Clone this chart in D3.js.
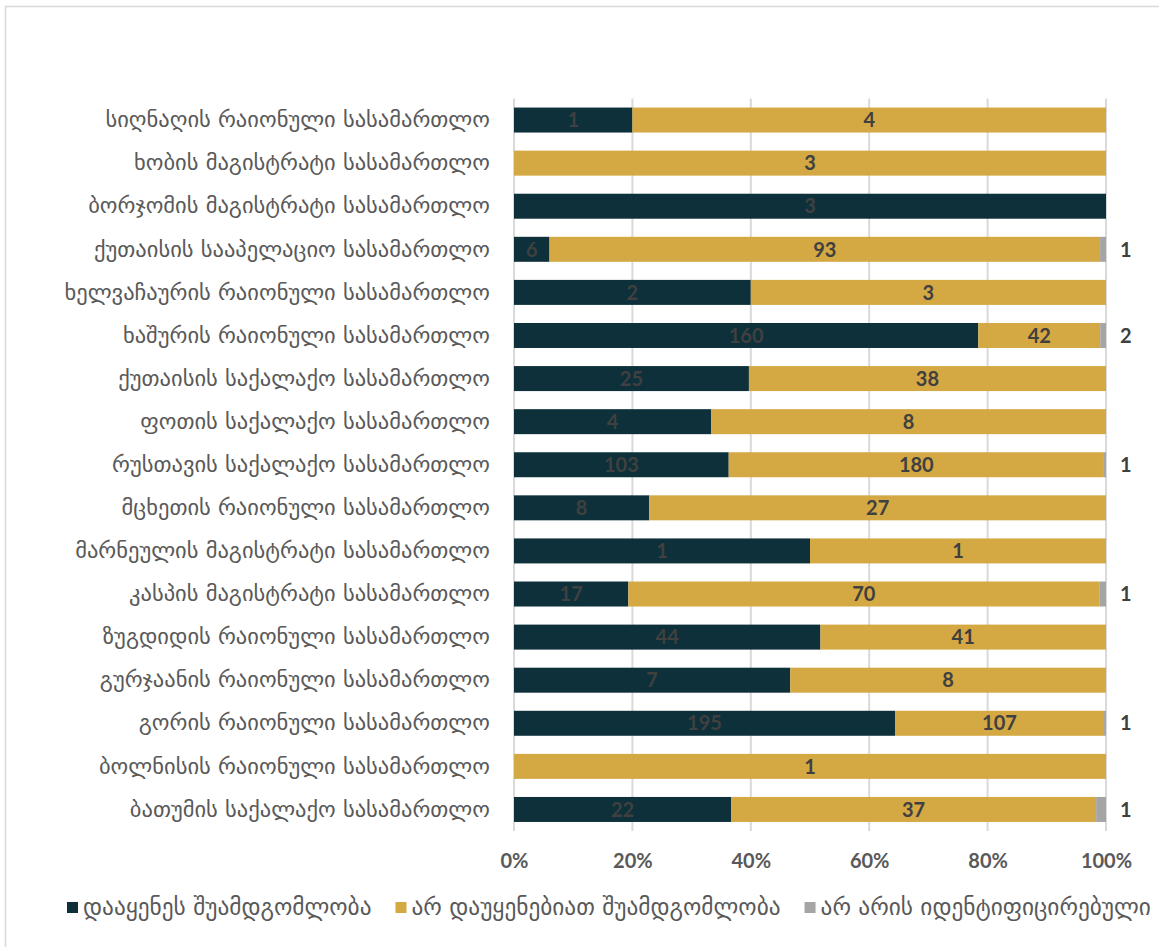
<!DOCTYPE html>
<html>
<head>
<meta charset="utf-8">
<script src="https://cdn.jsdelivr.net/npm/d3@7"></script>
<style>
html,body{margin:0;padding:0;background:#fff;}
svg{display:block;}
</style>
</head>
<body>
<svg id="chart" width="1159" height="947"></svg>
<script>
const categories = [
  "სიღნაღის რაიონული სასამართლო",
  "ხობის მაგისტრატი სასამართლო",
  "ბორჯომის მაგისტრატი სასამართლო",
  "ქუთაისის სააპელაციო სასამართლო",
  "ხელვაჩაურის რაიონული სასამართლო",
  "ხაშურის რაიონული სასამართლო",
  "ქუთაისის საქალაქო სასამართლო",
  "ფოთის საქალაქო სასამართლო",
  "რუსთავის საქალაქო სასამართლო",
  "მცხეთის რაიონული სასამართლო",
  "მარნეულის მაგისტრატი სასამართლო",
  "კასპის მაგისტრატი სასამართლო",
  "ზუგდიდის რაიონული სასამართლო",
  "გურჯაანის რაიონული სასამართლო",
  "გორის რაიონული სასამართლო",
  "ბოლნისის რაიონული სასამართლო",
  "ბათუმის საქალაქო სასამართლო"
];
const filed    = [1, 0, 3, 6, 2, 160, 25, 4, 103, 8, 1, 17, 44, 7, 195, 0, 22];
const notFiled = [4, 3, 0, 93, 3, 42, 38, 8, 180, 27, 1, 70, 41, 8, 107, 1, 37];
const unknown  = [0, 0, 0, 1, 0, 2, 0, 0, 1, 0, 0, 1, 0, 0, 1, 0, 1];
const seriesNames = ["დააყენეს შუამდგომლობა", "არ დაუყენებიათ შუამდგომლობა", "არ არის იდენტიფიცირებული"];
const colors = ["#0d303a", "#d4a843", "#a5a5a5"];
const tickValues = [0, 0.2, 0.4, 0.6, 0.8, 1.0];

const svg = d3.select("#chart");
const W = 1159, H = 947;

// outer frame
svg.append("rect").attr("x", 5.5).attr("y", 6.5).attr("width", W + 10).attr("height", H + 10)
  .attr("fill", "none").attr("stroke", "#d9d9d9").attr("stroke-width", 1.5);

const pL = 514, pR = 1106, pT = 98.5, pB = 831;
const x = d3.scaleLinear().domain([0, 1]).range([pL, pR]);
const y = d3.scaleBand().domain(categories).range([pT, pB]).paddingInner(0.42).paddingOuter(0.21);

// gridlines
svg.append("g").selectAll("line").data(tickValues).join("line")
  .attr("x1", d => x(d)).attr("x2", d => x(d))
  .attr("y1", pT).attr("y2", pB)
  .attr("stroke", "#d9d9d9").attr("stroke-width", 2);

const rows = categories.map((c, i) => {
  const vals = [filed[i], notFiled[i], unknown[i]];
  const tot = d3.sum(vals);
  let acc = 0;
  return {cat: c, segs: vals.map((v, k) => {
    const s = {k, v, x0: acc / tot, x1: (acc + v) / tot};
    acc += v;
    return s;
  })};
});

const numFont = "Lato, 'Open Sans', sans-serif";
const geoFont = "'DejaVu Sans', sans-serif";

const g = svg.append("g");
rows.forEach(r => {
  r.segs.forEach(s => {
    if (s.v <= 0) return;
    g.append("rect")
      .attr("x", x(s.x0)).attr("width", x(s.x1) - x(s.x0))
      .attr("y", y(r.cat)).attr("height", y.bandwidth())
      .attr("fill", colors[s.k]);
  });
  r.segs.forEach(s => {
    if (s.v <= 0) return;
    const cy = y(r.cat) + y.bandwidth() / 2;
    const tx = s.k === 2 ? x(1) + 14 : (x(s.x0) + x(s.x1)) / 2;
    g.append("text")
      .attr("x", tx).attr("y", cy).attr("dy", "0.36em")
      .attr("text-anchor", s.k === 2 ? "start" : "middle")
      .attr("font-family", numFont)
      .attr("font-weight", "bold").attr("font-size", 20)
      .attr("fill", "#404040")
      .text(s.v);
  });
});

// category labels
const ax = d3.axisLeft(y).tickSize(0).tickPadding(24);
const ag = svg.append("g").attr("transform", `translate(${pL},0)`).call(ax);
ag.select(".domain").remove();
ag.selectAll("text")
  .attr("font-family", geoFont)
  .attr("font-size", 22.5).attr("fill", "#595959");

// x axis
const xa = d3.axisBottom(x).tickValues(tickValues).tickFormat(d3.format(".0%")).tickSize(0).tickPadding(0);
const xg = svg.append("g").attr("transform", `translate(0,854)`).call(xa);
xg.select(".domain").remove();
xg.selectAll("text")
  .attr("font-family", numFont)
  .attr("font-weight", "bold").attr("font-size", 20).attr("fill", "#595959");

// legend
const legend = svg.append("g").attr("transform", "translate(0,908)");
let lx = 67;
seriesNames.forEach((name, i) => {
  const item = legend.append("g").attr("transform", `translate(${lx},0)`);
  item.append("rect").attr("x", 0).attr("y", -6).attr("width", 11).attr("height", 11).attr("fill", colors[i]);
  const t = item.append("text").attr("x", 16).attr("y", 0).attr("dy", "0.3em")
    .attr("font-family", geoFont).attr("font-size", 23.3).attr("fill", "#595959")
    .text(name);
  lx += 16 + t.node().getComputedTextLength() + 24;
});
</script>
</body>
</html>
